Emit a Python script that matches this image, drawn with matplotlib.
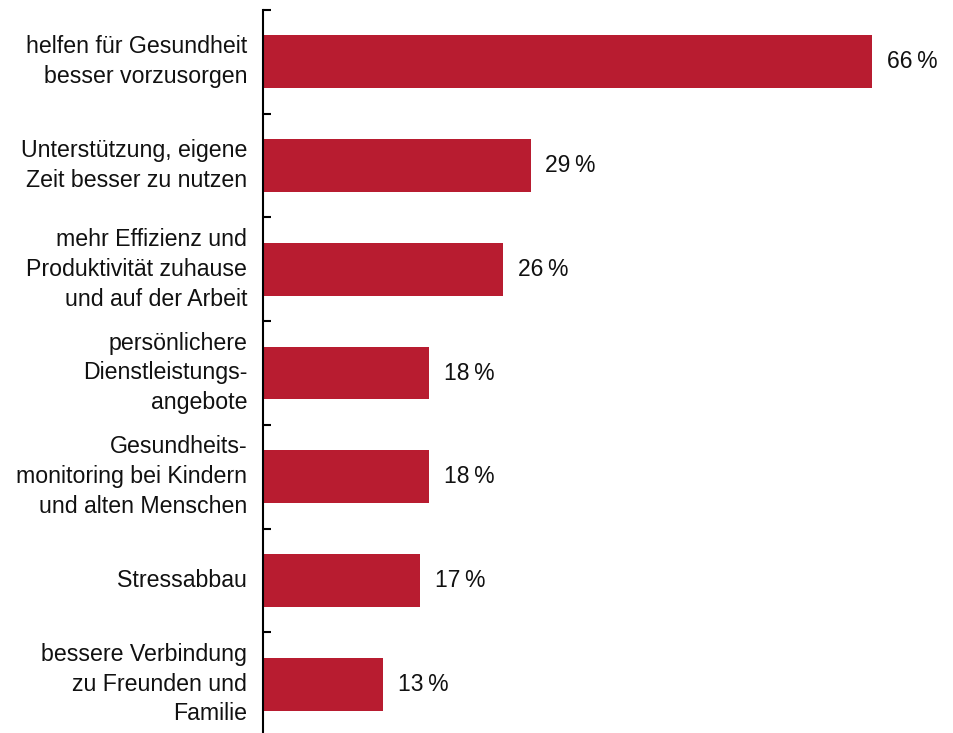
import matplotlib
matplotlib.use("Agg")
import matplotlib.pyplot as plt

plt.rcParams['font.family'] = ['Liberation Sans', 'DejaVu Sans']

labels = [
    "helfen für Gesundheit\nbesser vorzusorgen",
    "Unterstützung, eigene\nZeit besser zu nutzen",
    "mehr Effizienz und\nProduktivität zuhause\nund auf der Arbeit",
    "persönlichere\nDienstleistungs-\nangebote",
    "Gesundheits-\nmonitoring bei Kindern\nund alten Menschen",
    "Stressabbau",
    "bessere Verbindung\nzu Freunden und\nFamilie",
]
values = [66, 29, 26, 18, 18, 17, 13]

bar_color = '#B81C30'

fig = plt.figure(figsize=(9.54, 7.33), dpi=100)
ax = fig.add_axes([263 / 954, -3 / 733, 691 / 954, 726 / 733])

pos = list(range(len(values)))
ax.barh(pos, values, height=0.51, color=bar_color)
ax.set_ylim(len(values) - 0.5, -0.5)
ax.set_xlim(0, 691 / 9.227)

for p, v in zip(pos, values):
    ax.text(v + 1.6, p, f"{v}\u2009%", va='center', ha='left', fontsize=16.5, color='#111111')

for p, lab in zip(pos, labels):
    ax.text(-1.7, p, lab, va='center', ha='right', fontsize=16.7, color='#111111',
            linespacing=1.38)

# tick marks between the categories, pointing into the plot
ax.set_yticks([p - 0.5 for p in pos])
ax.set_yticklabels([])
ax.tick_params(axis='y', direction='in', length=6, width=1.5, color='black')
ax.set_xticks([])

for s in ['top', 'right', 'bottom']:
    ax.spines[s].set_visible(False)
ax.spines['left'].set_linewidth(1.5)

fig.savefig('out.png', dpi=100)
